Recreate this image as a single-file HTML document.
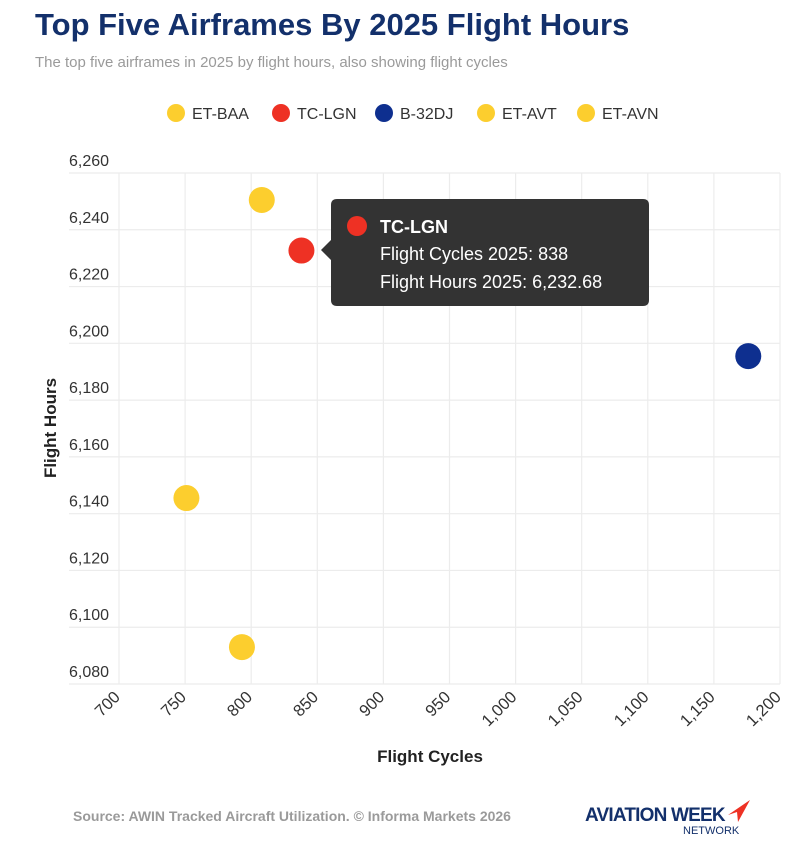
<!DOCTYPE html>
<html><head><meta charset="utf-8"><style>
body{margin:0;width:798px;height:849px;background:#fff;font-family:"Liberation Sans",sans-serif;overflow:hidden}
</style></head><body>
<svg width="798" height="849" viewBox="0 0 798 849" xmlns="http://www.w3.org/2000/svg" font-family="Liberation Sans, sans-serif">
<text x="35" y="35" font-size="31" font-weight="bold" fill="#13306b">Top Five Airframes By 2025 Flight Hours</text>
<text x="35" y="67" font-size="15" fill="#9a9a9a">The top five airframes in 2025 by flight hours, also showing flight cycles</text>
<g id="legend"></g>
<g id="grid"></g>
<g id="axes"></g>
<g id="points"></g>
<text x="430" y="762" font-size="17" font-weight="bold" fill="#222" text-anchor="middle">Flight Cycles</text>
<text transform="translate(56,428) rotate(-90)" font-size="17" font-weight="bold" fill="#222" text-anchor="middle">Flight Hours</text>
<g>
<path d="M337,199 H643 Q649,199 649,205 V300 Q649,306 643,306 H337 Q331,306 331,300 V260 L321,250 L331,240 V205 Q331,199 337,199 Z" fill="#333"/>
<circle cx="357" cy="226" r="10" fill="#ee3124"/>
<text x="380" y="233" font-size="18" font-weight="bold" fill="#fff">TC-LGN</text>
<text x="380" y="260" font-size="18" fill="#fff">Flight Cycles 2025: 838</text>
<text x="380" y="288" font-size="18" fill="#fff">Flight Hours 2025: 6,232.68</text>
</g>
<text x="73" y="821" font-size="14" font-weight="bold" fill="#9a9a9a">Source: AWIN Tracked Aircraft Utilization. © Informa Markets 2026</text>
<g>
<text x="585" y="821" font-size="19" font-weight="bold" fill="#13306b" letter-spacing="-0.8">AVIATION WEEK</text>
<path d="M728,815 L750,800 L738,822 L737,812 Z" fill="#ee3124"/>
<text x="683" y="834" font-size="11" fill="#13306b">NETWORK</text>
</g>
</svg>
<script>
const names=["ET-BAA","TC-LGN","B-32DJ","ET-AVT","ET-AVN"];
const colors=["#fcce2e","#ee3124","#0e2f8f","#fcce2e","#fcce2e"];
const cycles=[808,838,1176,751,793];
const hours=[6250.5,6232.68,6195.5,6145.5,6093];
const xTicks=[700,750,800,850,900,950,1000,1050,1100,1150,1200];
const yTicks=[6080,6100,6120,6140,6160,6180,6200,6220,6240,6260];
const NS="http://www.w3.org/2000/svg";
const X=v=>119+(v-700)*(780-119)/500;
const Y=v=>684-(v-6080)*(684-173)/180;
function mk(t,a,p,txt){const e=document.createElementNS(NS,t);for(const k in a)e.setAttribute(k,a[k]);if(txt!==undefined)e.textContent=txt;p.appendChild(e);return e;}
const g=document.getElementById('grid'),ax=document.getElementById('axes'),pt=document.getElementById('points'),lg=document.getElementById('legend');
xTicks.forEach(v=>{const l=mk('line',{x1:X(v),x2:X(v),y1:173,y2:684,stroke:'#ececec','stroke-width':1.2},g);


const t=mk('text',{transform:`translate(${X(v)+2},${698}) rotate(-45)`,'font-size':16.5,fill:'#333','text-anchor':'end'},ax,v.toLocaleString('en-US'));

});
yTicks.forEach(v=>{const l=mk('line',{x1:69,x2:780,y1:Y(v),y2:Y(v),stroke:'#ececec','stroke-width':1.2},g);


const t=mk('text',{x:69,y:Y(v)-7,'font-size':16,fill:'#333'},ax,v.toLocaleString('en-US'));

});
names.forEach((n,i)=>{const c=mk('circle',{cx:X(cycles[i]),cy:Y(hours[i]),r:13,fill:colors[i]},pt);

});
const lx=[176,281,384,486,586];
names.forEach((n,i)=>{const gg=mk('g',{},lg);


mk('circle',{cx:lx[i],cy:113,r:9,fill:colors[i]},gg);mk('text',{x:lx[i]+16,y:119,'font-size':16,fill:'#333'},gg,n);});
</script>
</body></html>
